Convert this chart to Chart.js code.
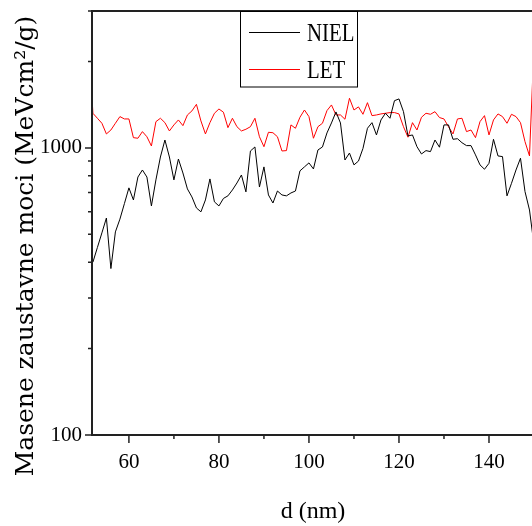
<!DOCTYPE html>
<html>
<head>
<meta charset="utf-8">
<script src="https://cdn.jsdelivr.net/npm/chart.js@4.4.0/dist/chart.umd.min.js"></script>
<style>
html, body { margin: 0; padding: 0; background: #fff; overflow: hidden; }
#wrap { width: 546px; height: 526px; }
</style>
</head>
<body>
<div id="wrap"><canvas id="myChart" width="546" height="526"></canvas></div>
<script>
// d (nm)
let depth = [51, 52, 53, 54, 55, 56, 57, 58, 59, 60,
    61, 62, 63, 64, 65, 66, 67, 68, 69, 70,
    71, 72, 73, 74, 75, 76, 77, 78, 79, 80,
    81, 82, 83, 84, 85, 86, 87, 88, 89, 90,
    91, 92, 93, 94, 95, 96, 97, 98, 99, 100,
    101, 102, 103, 104, 105, 106, 107, 108, 109, 110,
    111, 112, 113, 114, 115, 116, 117, 118, 119, 120,
    121, 122, 123, 124, 125, 126, 127, 128, 129, 130,
    131, 132, 133, 134, 135, 136, 137, 138, 139, 140,
    141, 142, 143, 144, 145, 146, 147, 148, 149, 150];
let niel = [410, 400, 450, 506, 570, 380, 510, 565, 640, 726,
    659, 792, 838, 792, 628, 774, 930, 1066, 930, 774,
    915, 818, 720, 675, 618, 599, 659, 780, 649, 628,
    667, 681, 714, 755, 805, 703, 976, 1008, 731, 859,
    686, 643, 708, 686, 681, 697, 708, 832, 859, 887,
    845, 984, 1008, 1128, 1222, 1335, 1222, 908, 960, 873,
    900, 996, 1171, 1225, 1110, 1252, 1321, 1269, 1461, 1482,
    1338, 1101, 1110, 1010, 953, 979, 971, 1066, 1006, 1203,
    1203, 1072, 1077, 1043, 1019, 1019, 946, 873, 843, 884,
    1072, 938, 933, 681, 753, 838, 921, 705, 608, 459];
let letValues = [2500, 1321, 1269, 1219, 1119, 1155, 1219, 1286, 1262, 1262,
    1086, 1081, 1140, 1094, 1016, 1235, 1269, 1225, 1146, 1203,
    1252, 1196, 1303, 1346, 1419, 1242, 1119, 1225, 1321, 1367,
    1332, 1177, 1269, 1186, 1146, 1162, 1186, 1269, 1094, 1010,
    1134, 1130, 1094, 976, 979, 1203, 1171, 1279, 1356, 1286,
    1081, 1186, 1219, 1349, 1412, 1303, 1303, 1259, 1490, 1356,
    1390, 1310, 1438, 1296, 1303, 1314, 1321, 1328, 1328, 1314,
    1186, 1090, 1225, 1155, 1279, 1321, 1310, 1338, 1276, 1262,
    1186, 1119, 1262, 1269, 1140, 1155, 1086, 1235, 1296, 1110,
    1252, 1314, 1286, 1219, 1310, 1286, 1225, 1052, 938, 2270];

let xTicks = [60, 80, 100, 120, 140];
let xMinor = [70, 90, 110, 130, 150];
let yTicks = [100, 1000];
let yMinor = [200, 300, 400, 500, 600, 700, 800, 900, 2000, 3000];
let yTitle = "Masene zaustavne moci (MeVcm\u00B2/g)";

// frame, tick marks, rotated y title and the legend box
var framePlugin = {
    id: "frame",
    afterDraw: function (chart) {
        var ctx = chart.ctx, a = chart.chartArea;
        var x = chart.scales.x, y = chart.scales.y;
        ctx.save();
        ctx.strokeStyle = "#222";
        ctx.lineWidth = 2;
        ctx.strokeRect(a.left, a.top, a.right - a.left, a.bottom - a.top);

        ctx.lineWidth = 1.5;
        ctx.beginPath();
        xTicks.forEach(function (v) {
            var px = x.getPixelForValue(v);
            ctx.moveTo(px, a.bottom); ctx.lineTo(px, a.bottom + 8);
        });
        xMinor.forEach(function (v) {
            var px = x.getPixelForValue(v);
            ctx.moveTo(px, a.bottom); ctx.lineTo(px, a.bottom + 4);
        });
        yTicks.forEach(function (v) {
            var py = y.getPixelForValue(v);
            ctx.moveTo(a.left, py); ctx.lineTo(a.left - 7, py);
        });
        yMinor.forEach(function (v) {
            var py = y.getPixelForValue(v);
            ctx.moveTo(a.left, py); ctx.lineTo(a.left - 4, py);
        });
        ctx.stroke();

        // y title
        ctx.fillStyle = "#000";
        ctx.font = "25px 'DejaVu Serif'";
        ctx.textAlign = "center";
        ctx.textBaseline = "alphabetic";
        ctx.translate(33, 246);
        ctx.rotate(-Math.PI / 2);
        ctx.fillText(yTitle, 0, 0);
        ctx.restore();

        // legend
        ctx.save();
        ctx.fillStyle = "#fff";
        ctx.fillRect(240.5, 11, 117, 76);
        ctx.strokeStyle = "#000";
        ctx.lineWidth = 1;
        ctx.strokeRect(240.5, 11.5, 117, 75.5);
        ctx.font = "26px 'Liberation Serif'";
        ctx.textAlign = "left";
        ctx.textBaseline = "middle";
        var rows = [32, 69];
        chart.data.datasets.forEach(function (ds, i) {
            ctx.strokeStyle = ds.borderColor;
            ctx.beginPath();
            ctx.moveTo(249, rows[i] + 0.5); ctx.lineTo(300, rows[i] + 0.5);
            ctx.stroke();
            ctx.fillStyle = "#000";
            var w = ctx.measureText(ds.label).width;
            ctx.fillText(ds.label, 307, rows[i] + 2, w * 0.8);
        });
        ctx.restore();
    }
};

new Chart("myChart", {
    type: "line",
    data: {
        datasets: [{
                label: "NIEL",
                data: depth.map(function (d, i) { return {x: d, y: niel[i]}; }),
                borderColor: "#000",
                borderWidth: 1,
                pointRadius: 0,
                tension: 0
            }, {
                label: "LET",
                data: depth.map(function (d, i) { return {x: d, y: letValues[i]}; }),
                borderColor: "#ff0000",
                borderWidth: 1,
                pointRadius: 0,
                tension: 0
            }]
    },
    options: {
        responsive: false,
        animation: false,
        devicePixelRatio: 1,
        layout: {padding: {top: 11, right: 12, left: 0, bottom: 0}},
        plugins: {legend: {display: false}, tooltip: {enabled: false}},
        scales: {
            x: {
                type: "linear",
                min: 51.8,
                max: 150,
                grid: {display: false, drawTicks: false},
                border: {display: false},
                afterBuildTicks: function (s) { s.ticks = xTicks.map(function (v) { return {value: v}; }); },
                afterFit: function (s) {
                    s.height = 91;
                    s.paddingLeft = 0; s.paddingRight = 0;
                },
                ticks: {
                    padding: 15, color: "#000", maxRotation: 0, autoSkip: false,
                    font: {family: "Liberation Serif", size: 21}
                },
                title: {
                    display: true, text: "d (nm)", color: "#000", padding: 0,
                    font: {family: "Liberation Serif", size: 24}
                }
            },
            y: {
                type: "logarithmic",
                min: 100,
                max: 3000,
                grid: {display: false, drawTicks: false},
                border: {display: false},
                afterBuildTicks: function (s) { s.ticks = yTicks.map(function (v) { return {value: v}; }); },
                afterFit: function (s) {
                    s.width = 92;
                    s.paddingTop = 0; s.paddingBottom = 0;
                },
                ticks: {
                    padding: 10, color: "#000", autoSkip: false,
                    font: {family: "Liberation Serif", size: 21},
                    callback: function (v) { return String(v); }
                }
            }
        }
    },
    plugins: [framePlugin]
});
</script>
</body>
</html>
